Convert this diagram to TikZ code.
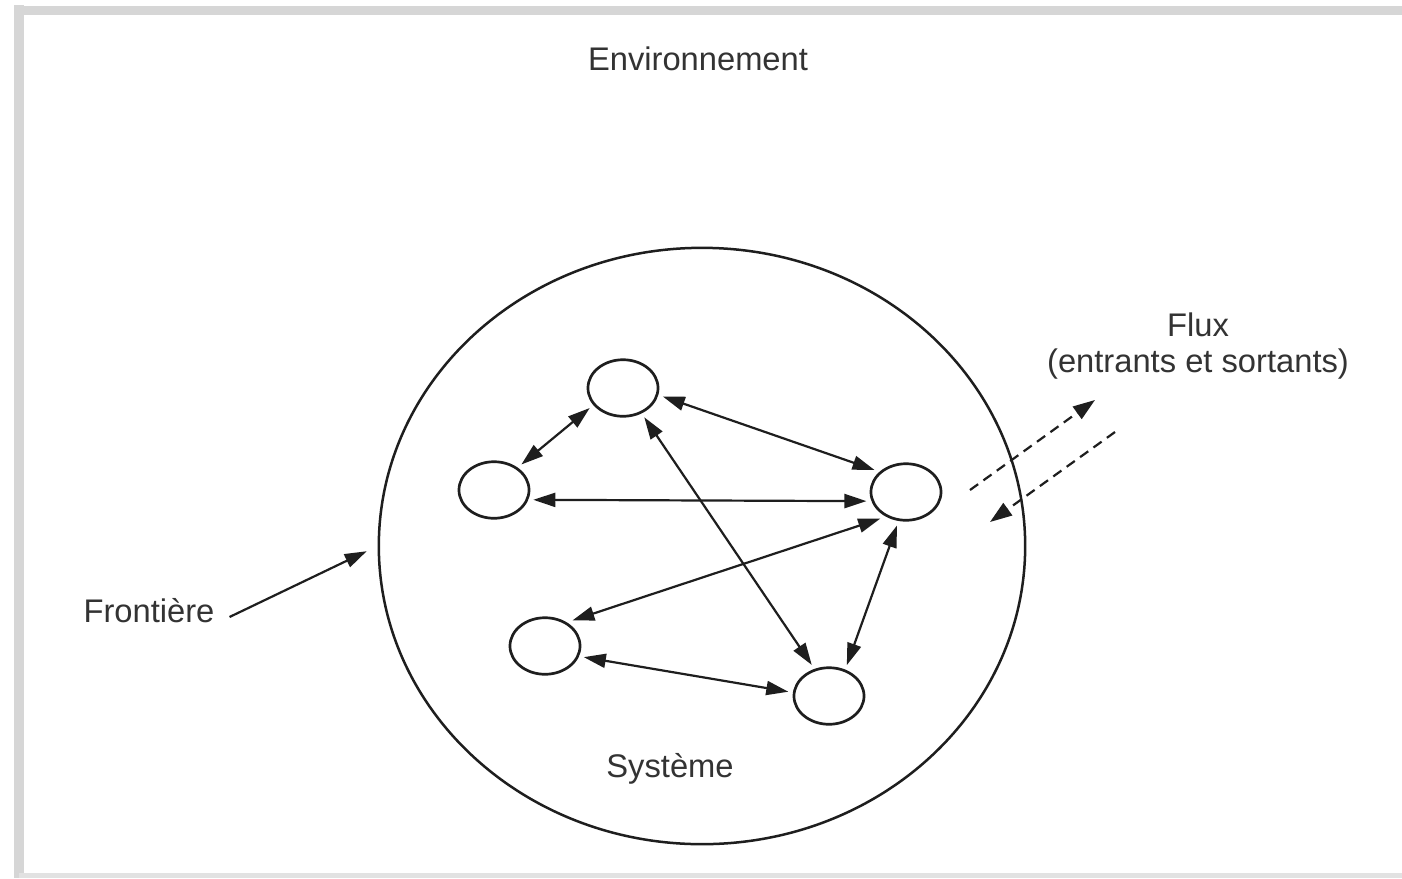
\documentclass[tikz,border=0pt]{standalone}
\usepackage{fontspec}
\setmainfont{Liberation Sans}
\usetikzlibrary{arrows.meta,shapes.geometric}
\definecolor{framegray}{HTML}{D6D6D6}
\definecolor{framelight}{HTML}{E2E2E2}
\definecolor{ink}{HTML}{1E1E1E}
\definecolor{txt}{HTML}{333333}
\begin{document}
\begin{tikzpicture}[x=0.01cm,y=-0.01cm,
  lbl/.style={inner sep=0pt,text=txt,font=\fontsize{9.3}{10}\selectfont,align=center},
  subsys/.style={draw=ink,ellipse,line width=0.027cm,minimum width=0.70cm,minimum height=0.565cm,inner sep=0pt,outer sep=0.06cm},
  bigsys/.style={draw=ink,ellipse,line width=0.025cm,minimum width=6.46cm,minimum height=5.96cm,inner sep=0pt},
  dbl/.style={draw=ink,line width=0.022cm,{Triangle[length=0.22cm,width=0.14cm]}-{Triangle[length=0.22cm,width=0.14cm]}},
  sgl/.style={draw=ink,line width=0.022cm,-{Triangle[length=0.22cm,width=0.14cm]}},
  flux/.style={draw=ink,line width=0.022cm,dash pattern=on 0.1cm off 0.065cm,-{Triangle[length=0.22cm,width=0.15cm]}},
  framel/.style={draw=framegray,line width=0.09cm}]
\useasboundingbox (0,0) rectangle (1402,878);
\fill[white] (0,0) rectangle (1402,878);
% frame
\draw[framel] (14,10) -- (1402,10);
\draw[framel] (19,5) -- (19,878);
\draw[draw=framelight,line width=0.05cm] (19,875) -- (1402,875);
% labels
\node[lbl] (env) at (698,59) {Environnement};
\node[lbl] (flux) at (1198,346) {Flux\\(entrants et sortants)};
\node[lbl] (fr) at (149,611) {Frontière};
\node[lbl] (sysl) at (670,769) {Système};
% system boundary
\node[bigsys] (big) at (702,546) {};
% subsystems
\node[subsys] (t) at (623,388) {};
\node[subsys] (l) at (494,490) {};
\node[subsys] (r) at (906,492) {};
\node[subsys] (bl) at (545,646) {};
\node[subsys] (br) at (829,696) {};
% interactions
\draw[dbl] (t.211) -- (l.43);
\draw[dbl] (l.-14) -- (r.-167);
\draw[dbl] (t.-12.5) -- (r.145.7);
\draw[dbl] (t.-54.8) -- (br.119);
\draw[dbl] (r.-134) -- (bl.43.7);
\draw[dbl] (r.-105.5) -- (br.60.8);
\draw[dbl] (bl.-16.3) -- (br.174.8);
% frontier arrow
\draw[sgl,shorten <=0.16cm,shorten >=0.12cm] (fr.south east) -- (big.180);
% flux arrows
\coordinate (f1s) at (970,490);
\coordinate (f1t) at (1095,400);
\coordinate (f2s) at (1115,432);
\coordinate (f2t) at (990,522);
\draw[flux] (f1s) -- (f1t);
\draw[flux] (f2s) -- (f2t);
\end{tikzpicture}
\end{document}
